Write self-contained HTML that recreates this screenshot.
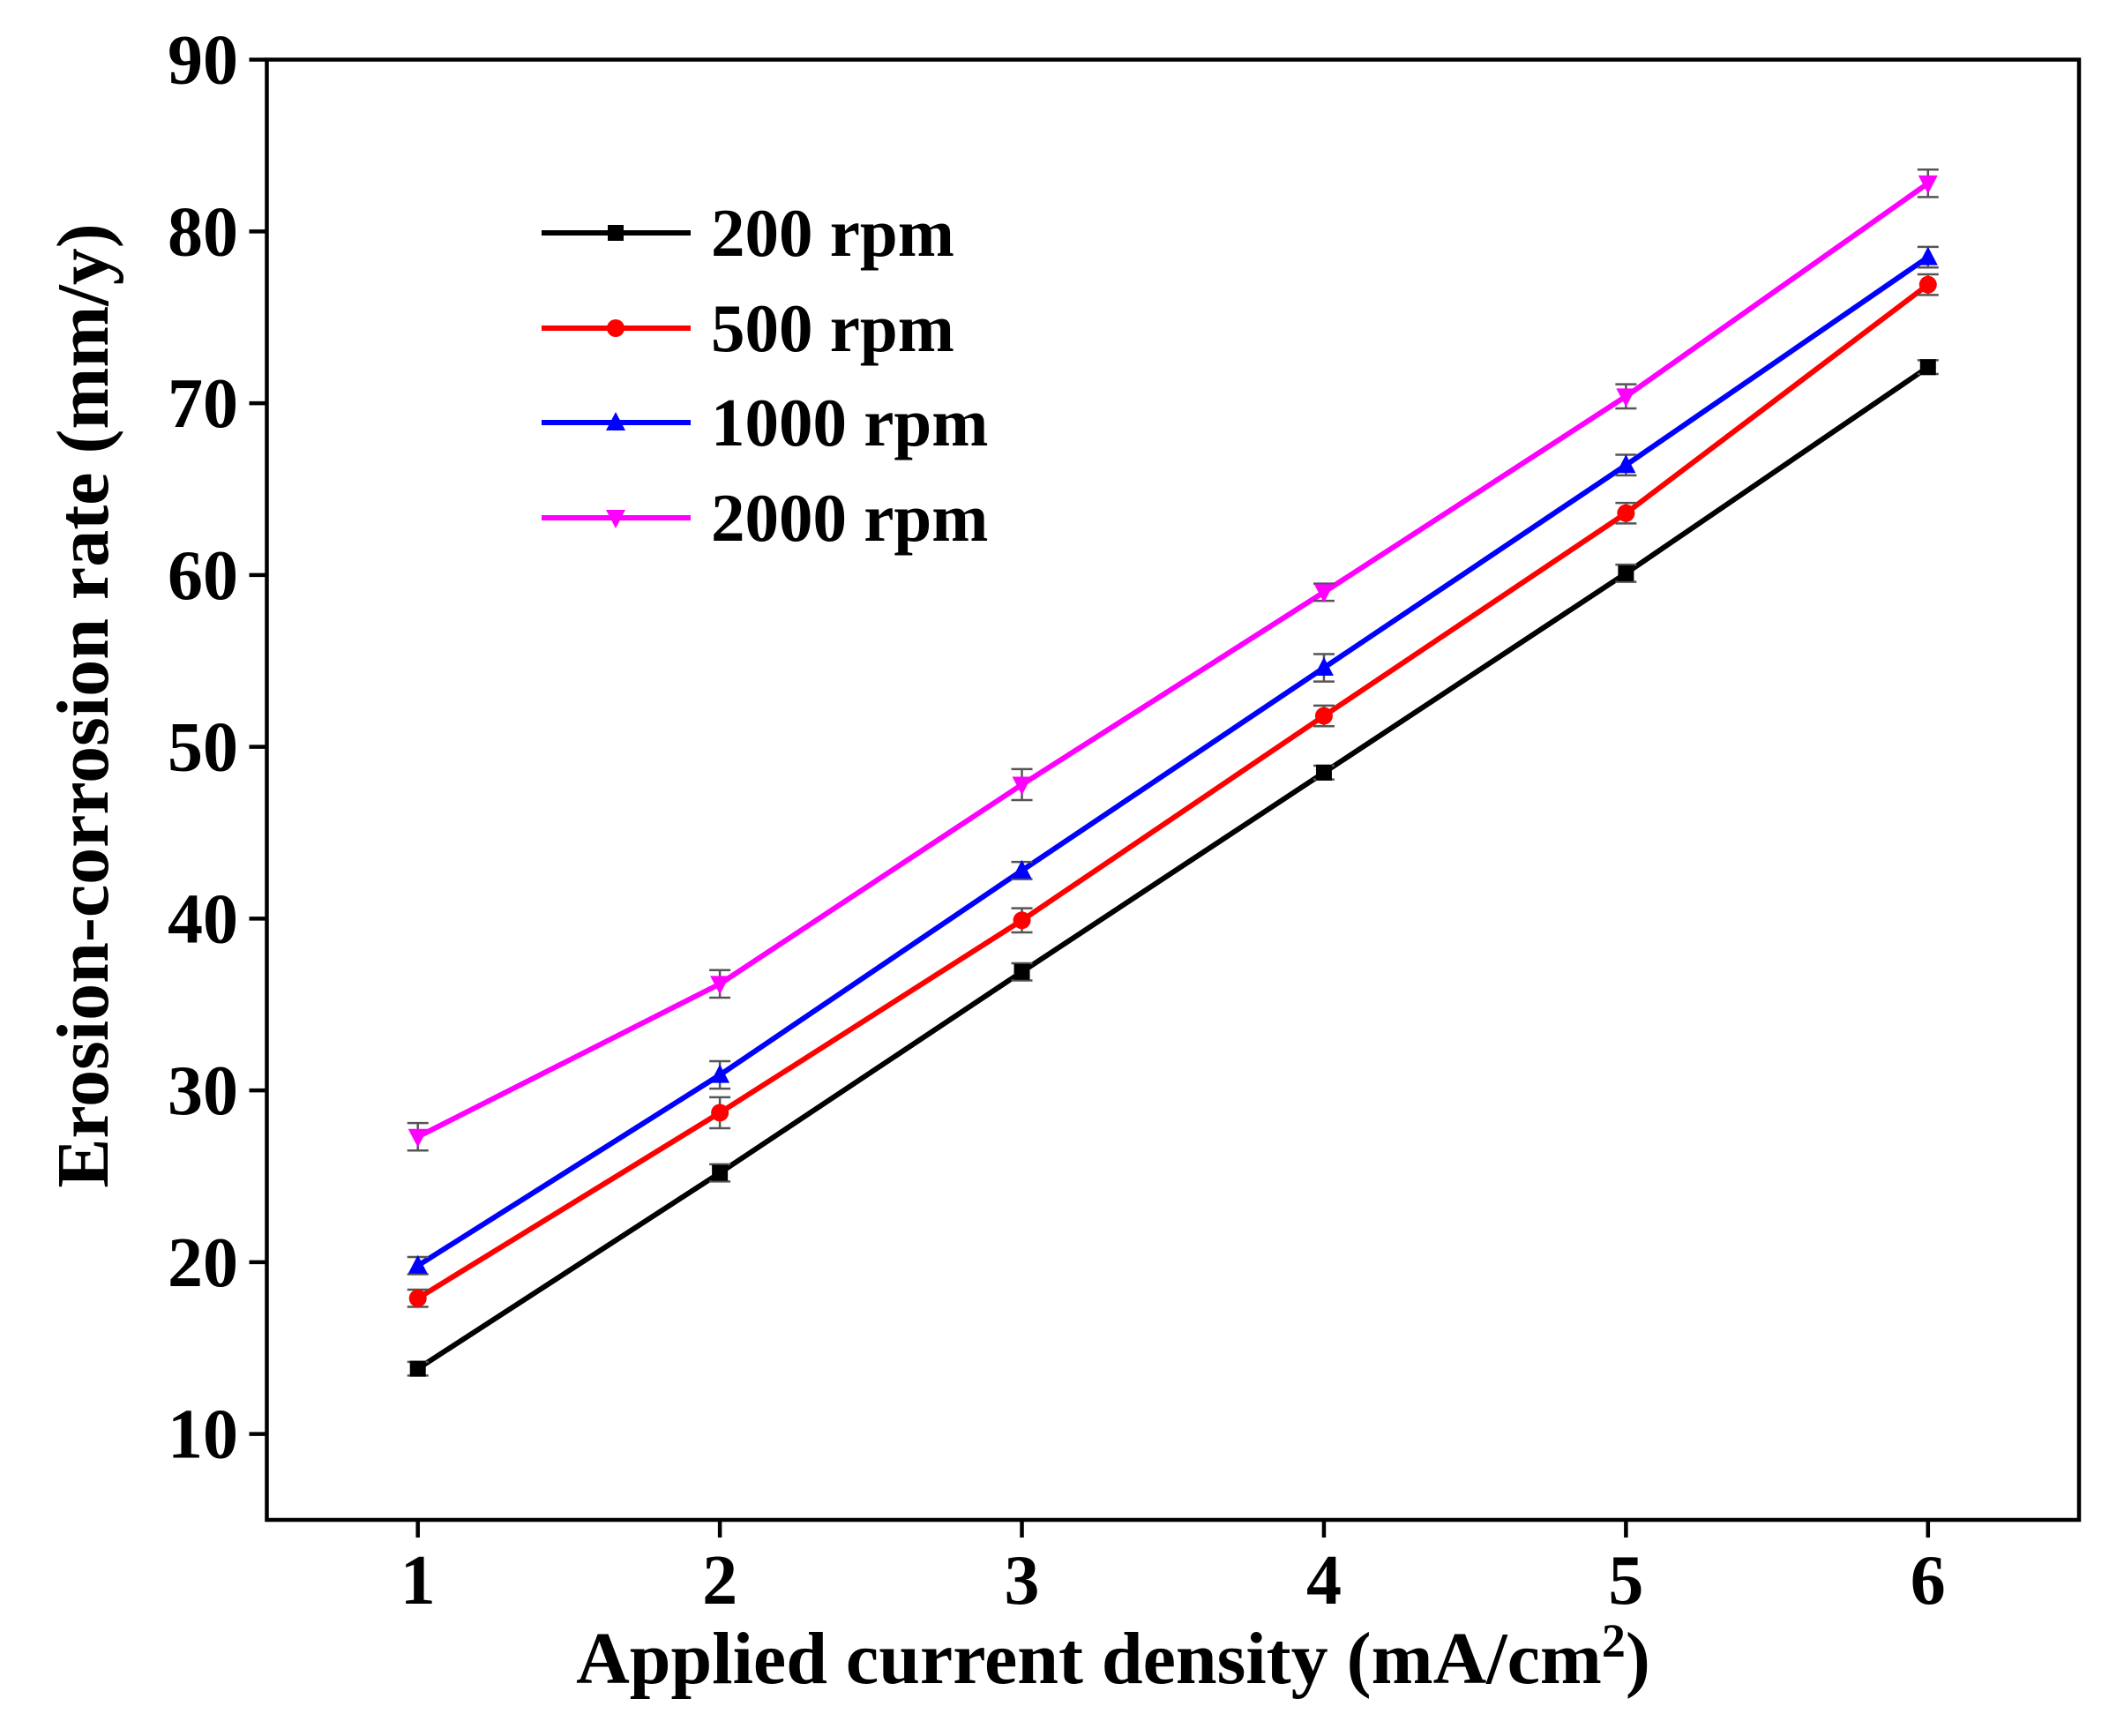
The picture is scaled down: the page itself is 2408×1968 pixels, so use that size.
<!DOCTYPE html>
<html><head><meta charset="utf-8"><style>
html,body{margin:0;padding:0;background:#fff;}
svg{display:block;font-family:"Liberation Serif",serif;font-weight:bold;}
</style></head><body>
<svg id="chart" width="2408" height="1968" viewBox="0 0 2408 1968" xmlns="http://www.w3.org/2000/svg"></svg>
<script>
const categories = [1, 2, 3, 4, 5, 6];
const s200 = [13.8, 25.2, 36.9, 48.5, 60.1, 72.1];
const s500 = [17.9, 28.7, 39.9, 51.8, 63.6, 76.9];
const s1000 = [19.8, 30.9, 42.8, 54.6, 66.4, 78.5];
const s2000 = [27.3, 36.2, 47.8, 59.0, 70.4, 82.8];
const err200 = [0.4, 0.5, 0.5, 0.4, 0.5, 0.4];
const err500 = [0.5, 0.9, 0.7, 0.6, 0.6, 0.6];
const err1000 = [0.5, 0.8, 0.5, 0.8, 0.6, 0.6];
const err2000 = [0.8, 0.8, 0.9, 0.5, 0.7, 0.8];
const yTicks = [10, 20, 30, 40, 50, 60, 70, 80, 90];
const seriesNames = ["200 rpm", "500 rpm", "1000 rpm", "2000 rpm"];

const svg = document.getElementById('chart');
const NS = "http://www.w3.org/2000/svg";
const L = 302.5, R = 2357, T = 67.6, B = 1723;
function xs(v){ return L + (v - 0.5) / 6 * (R - L); }
function ys(v){ return B - (v - 5) / 85 * (B - T); }
function mk(tag, attrs, parent){
  const e = document.createElementNS(NS, tag);
  for (const k in attrs) e.setAttribute(k, attrs[k]);
  (parent || svg).appendChild(e);
  return e;
}
const frame = mk('rect', {x:L, y:T, width:R-L, height:B-T, fill:'none', stroke:'#000', 'stroke-width':4.5});


categories.forEach(c => {
  const x = xs(c);
  mk('line', {x1:x, y1:B, x2:x, y2:B+20, stroke:'#000', 'stroke-width':4.5});
  const t = mk('text', {x:x, y:1818, 'text-anchor':'middle', 'font-size':80});
  t.textContent = c;
  
  
});
yTicks.forEach(v => {
  const y = ys(v);
  mk('line', {x1:L-20, y1:y, x2:L, y2:y, stroke:'#000', 'stroke-width':4.5});
  const t = mk('text', {x:270, y:y+27, 'text-anchor':'end', 'font-size':80});
  t.textContent = v;
  
  
});
const xt = mk('text', {x:1262, y:1908, 'text-anchor':'middle', 'font-size':84});
xt.innerHTML = 'Applied current density (mA/cm<tspan baseline-shift="super" font-size="54">2</tspan>)';


const yt = mk('text', {x:0, y:0, 'text-anchor':'middle', 'font-size':84, transform:'translate(122,800) rotate(-90)'});
yt.textContent = 'Erosion-corrosion rate (mm/y)';



function marker(type, x, y, color, g){
  const s = 9;
  if (type === 'square') return mk('rect', {x:x-s, y:y-s, width:2*s, height:2*s, fill:color}, g);
  if (type === 'circle') return mk('circle', {cx:x, cy:y, r:s+1, fill:color}, g);
  if (type === 'up') return mk('polygon', {points:`${x},${y-s-3} ${x-s-2},${y+s} ${x+s+2},${y+s}`, fill:color}, g);
  return mk('polygon', {points:`${x},${y+s+3} ${x-s-2},${y-s} ${x+s+2},${y-s}`, fill:color}, g);
}
const series = [
  {vals:s200, errs:err200, color:'#000000', m:'square', name:'series-200rpm'},
  {vals:s500, errs:err500, color:'#ff0000', m:'circle', name:'series-500rpm'},
  {vals:s1000, errs:err1000, color:'#0000ff', m:'up', name:'series-1000rpm'},
  {vals:s2000, errs:err2000, color:'#ff00ff', m:'down', name:'series-2000rpm'}
];
series.forEach(s => {
  const g = mk('g', {});
  
  
  const pts = s.vals.map((v,i) => xs(categories[i]) + ',' + ys(v)).join(' ');
  mk('polyline', {points:pts, fill:'none', stroke:s.color, 'stroke-width':6}, g);
  s.vals.forEach((v,i) => {
    const x = xs(categories[i]);
    const y1 = ys(v + s.errs[i]), y2 = ys(v - s.errs[i]);
    mk('path', {d:`M${x},${y1}V${y2}M${x-12},${y1}H${x+12}M${x-12},${y2}H${x+12}`, stroke:'#555', 'stroke-width':2.5, fill:'none'}, g);
    const p = marker(s.m, x, ys(v), s.color, g);
    
    
  });
});
const lg = mk('g', {});


const ly = [264, 372, 479, 587];
series.forEach((s, i) => {
  const e = mk('g', {}, lg);
  
  
  mk('line', {x1:614, y1:ly[i], x2:783, y2:ly[i], stroke:s.color, 'stroke-width':6}, e);
  marker(s.m, 698, ly[i], s.color, e);
  const t = mk('text', {x:806, y:ly[i]+26, 'font-size':77}, e);
  t.textContent = seriesNames[i];
});
</script>
</body></html>
